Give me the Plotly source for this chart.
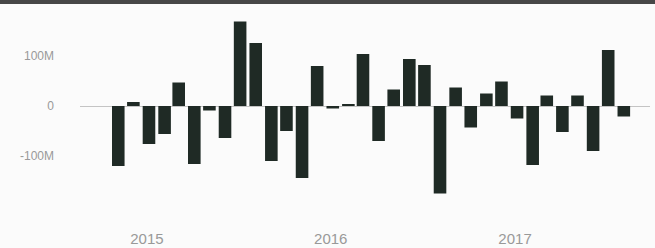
import plotly.graph_objects as go

months = [
    "2014-11-01", "2014-12-01",
    "2015-01-01", "2015-02-01", "2015-03-01", "2015-04-01", "2015-05-01", "2015-06-01",
    "2015-07-01", "2015-08-01", "2015-09-01", "2015-10-01", "2015-11-01", "2015-12-01",
    "2016-01-01", "2016-02-01", "2016-03-01", "2016-04-01", "2016-05-01", "2016-06-01",
    "2016-07-01", "2016-08-01", "2016-09-01", "2016-10-01", "2016-11-01", "2016-12-01",
    "2017-01-01", "2017-02-01", "2017-03-01", "2017-04-01", "2017-05-01", "2017-06-01",
    "2017-07-01", "2017-08-01",
]
values_m = [
    -120, 8,
    -76, -56, 47, -116, -9, -64,
    169, 126, -110, -50, -144, 80,
    -5, 3, 104, -70, 33, 94,
    82, -175, 37, -43, 25, 49,
    -25, -118, 21, -52, 21, -90,
    112, -21,
]
values = [v * 1e6 for v in values_m]

ytick_vals = [-100e6, 0, 100e6]
ytick_text = ["-100M", "0", "100M"]
xtick_vals = ["2015-01-01", "2016-01-01", "2017-01-01"]
xtick_text = ["2015", "2016", "2017"]

W, H = 655, 248
ml, mr, mt, mb = 80, 5, 8, 24
plot_h = H - mt - mb
zero_px, px_per_100m = 106.0, 50.0
day_ms = 86400000

fig = go.Figure(go.Bar(
    x=months, y=values,
    width=[25 * day_ms] * len(months),
    offset=-8.5 * day_ms,
    marker=dict(color="#1f2a25", line=dict(width=0)),
    hoverinfo="skip",
))

fig.update_layout(
    width=W, height=H,
    margin=dict(l=ml, r=mr, t=mt, b=mb, autoexpand=False),
    paper_bgcolor="#fbfbfb", plot_bgcolor="#fbfbfb",
    showlegend=False,
    font=dict(family="Liberation Sans, Arial, sans-serif", size=12, color="#999999"),
    xaxis=dict(
        type="date", automargin=False,
        range=["2014-08-21", "2017-09-26"],
        tickvals=xtick_vals, ticktext=xtick_text,
        tickfont=dict(size=15),
        showgrid=False, zeroline=False, showline=False,
        ticks="", ticklabelstandoff=4,
    ),
    yaxis=dict(
        automargin=False,
        range=[-(H - mb - zero_px) / px_per_100m * 100e6, (zero_px - mt) / px_per_100m * 100e6],
        tickvals=ytick_vals, ticktext=ytick_text,
        showgrid=False, zeroline=True, zerolinecolor="#c4c4c4", zerolinewidth=1,
        showline=False, ticks="", ticklabelstandoff=25,
    ),
    shapes=[dict(
        type="rect", xref="paper", yref="paper",
        x0=-ml / (W - ml - mr), x1=1 + mr / (W - ml - mr),
        y0=1 + (mt - 4) / plot_h, y1=1 + mt / plot_h,
        fillcolor="#474747", line=dict(width=0), layer="above",
    )],
)

fig.write_html(
    "out.html",
    config={"displayModeBar": False},
    post_script="document.body.style.margin='0';document.body.style.overflow='hidden';",
)
